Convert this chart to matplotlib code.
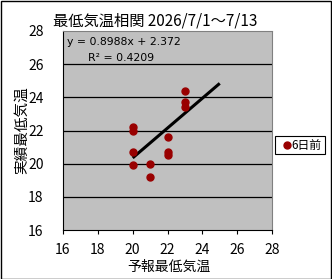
import matplotlib
matplotlib.use("Agg")
import matplotlib.pyplot as plt
import numpy as np
from matplotlib.lines import Line2D

plt.rcParams['font.family'] = ['Noto Sans CJK JP', 'DejaVu Sans']

forecast = [20, 20, 20, 20, 21, 21, 22, 22, 22, 23, 23, 23]
actual = [22.2, 22.0, 20.7, 19.9, 20.0, 19.2, 21.6, 20.7, 20.5, 24.4, 23.7, 23.4]
slope = 0.8988
intercept = 2.372
trend_x = [20, 25]
xticks = [16, 18, 20, 22, 24, 26, 28]
yticks = [16, 18, 20, 22, 24, 26, 28]
title = "最低気温相関 2026/7/1～7/13"
eq_text = "y = 0.8988x + 2.372"
r2_text = "R² = 0.4209"
legend_label = "6日前"

W, H = 332, 279
fig = plt.figure(figsize=(W / 100, H / 100), dpi=100)
fig.patch.set_facecolor('white')
fig.patches.append(plt.Rectangle((0.5 / W, 0.5 / H), 1 - 1.5 / W, 1 - 1.5 / H,
                                 transform=fig.transFigure, fill=False,
                                 edgecolor='black', linewidth=1.0))

left, right, top, bottom = 63, 272, 31, 230
ax = fig.add_axes([left / W, 1 - bottom / H, (right - left) / W, (bottom - top) / H])
ax.set_facecolor('#C0C0C0')
ax.set_xlim(16, 28)
ax.set_ylim(16, 28)
ax.set_xticks(xticks)
ax.set_yticks(yticks)
for y in yticks[1:-1]:
    ax.axhline(y, color='black', linewidth=0.9, zorder=1)

ax.spines['left'].set_color('black')
ax.spines['bottom'].set_color('black')
for s in ['top', 'right']:
    ax.spines[s].set_color('#808080')
    ax.spines[s].set_linestyle((0, (1, 1)))
for s in ax.spines.values():
    s.set_linewidth(0.8)

ax.tick_params(axis='x', direction='out', length=3, width=0.8, pad=6, labelsize=10)
ax.tick_params(axis='y', length=0, pad=14, labelsize=10)

tx = np.array(trend_x, dtype=float)
ax.plot(tx, slope * tx + intercept, color='black', linewidth=2.2, zorder=3,
        solid_capstyle='butt')
ax.plot(forecast, actual, 'o', color='#990000', markersize=5, zorder=4, linestyle='none')

ax.text(16.25, 27.65, eq_text, fontsize=7.8, va='top', ha='left', family='DejaVu Sans')
ax.text(17.45, 26.7, r2_text, fontsize=7.8, va='top', ha='left', family='DejaVu Sans')

fig.text(155 / W, 1 - 21 / H, title, fontsize=11, ha='center', va='center')
fig.text(22 / W, 1 - 130 / H, "実績最低気温", fontsize=10.5, ha='center', va='center', rotation=90)
fig.text(169 / W, 1 - 267 / H, "予報最低気温", fontsize=10, ha='center', va='center')

lx0, lx1, ly0, ly1 = 275, 325, 136, 154
fig.patches.append(plt.Rectangle((lx0 / W, 1 - ly1 / H), (lx1 - lx0) / W, (ly1 - ly0) / H,
                                 transform=fig.transFigure, fill=False,
                                 edgecolor='black', linewidth=0.8))
fig.lines.append(Line2D([287 / W], [1 - 145 / H], marker='o', color='#990000',
                        markersize=5, transform=fig.transFigure, linestyle='none'))
fig.text(291 / W, 1 - 145 / H, legend_label, fontsize=8.5, ha='left', va='center')

fig.savefig('out.png', dpi=100)
